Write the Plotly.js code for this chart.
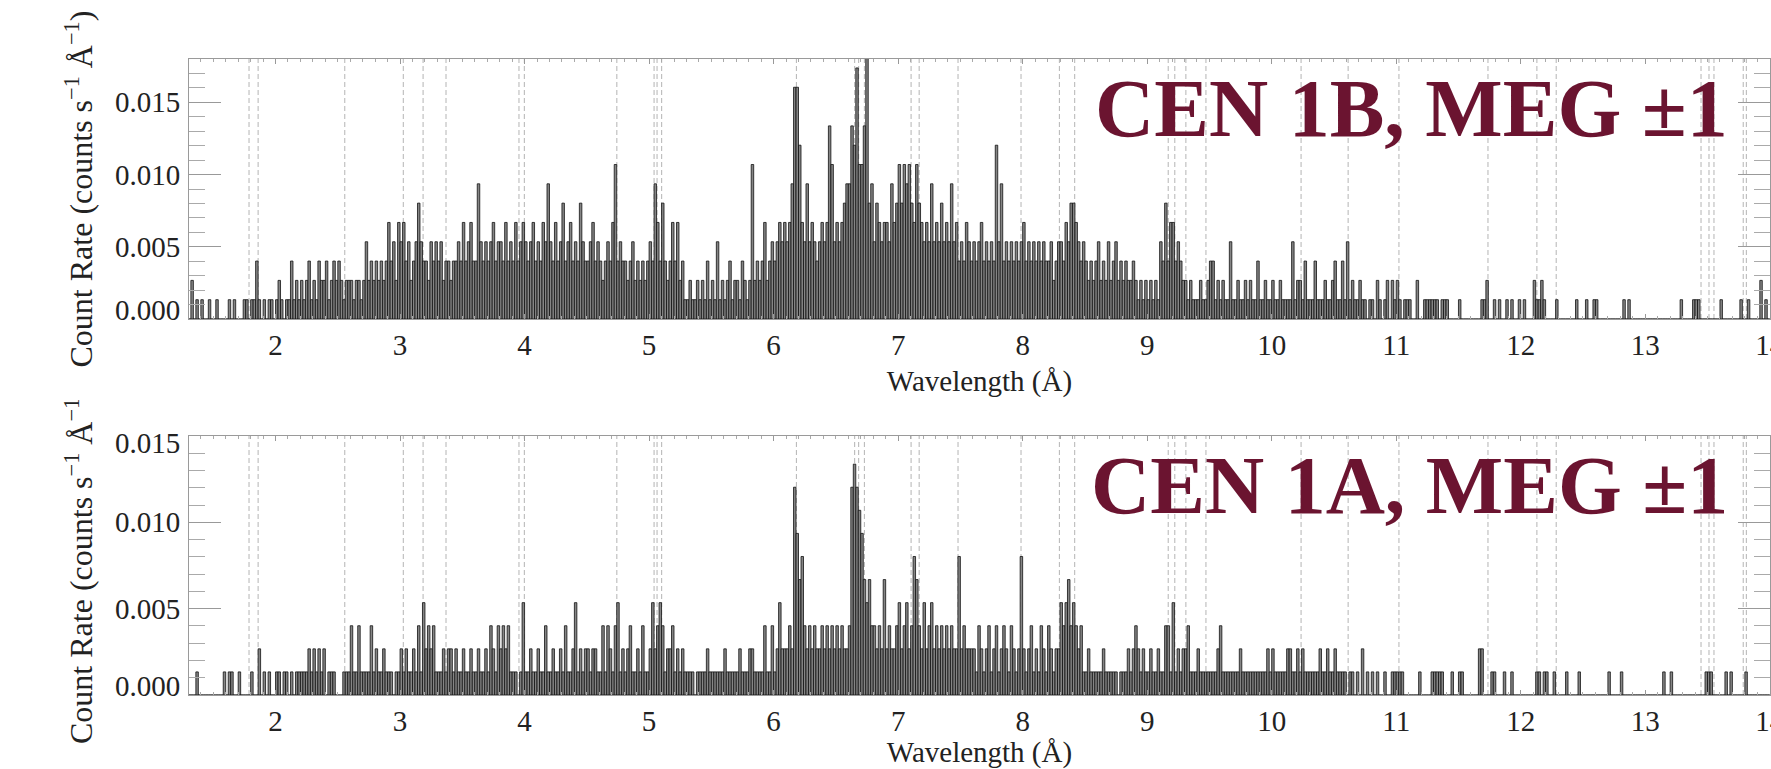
<!DOCTYPE html>
<html><head><meta charset="utf-8">
<script src="https://cdn.plot.ly/plotly-3.0.1.min.js"></script>
<style>
html,body{margin:0;padding:0;background:#fff;overflow:hidden;width:1771px;height:769px;}
#top{position:absolute;left:0;top:0;width:1771px;height:400px;overflow:hidden;}
#bot{position:absolute;left:0;top:400px;width:1771px;height:369px;overflow:hidden;}
</style></head><body>
<div id="top"></div><div id="bot"></div>
<script>
// Histogram bins (Angstrom)
const BIN_START = 1.30;
const BIN_WIDTH = 0.02;
const RATE_PER_COUNT = 0.001337; // counts s^-1 A^-1 for one count

// CEN 1B, MEG +/-1 : counts per bin, 1.30 -> 14.00 A
const cen1bCounts = [
 0,2,0,1,0, 1,0,0,1,0, 0,1,0,0,0, 0,1,0,1,0, 0,0,1,1,0, 1,1,3,1,0, 1,0,1,1,0,
 1,2,1,0,1, 1,3,1,2,1, 2,1,2,3,1, 2,1,3,2,2, 3,1,2,3,2, 3,2,1,2,2, 2,1,2,2,1, 2,4,2,3,2, 3,2,3,2,3, 5,3,4,2,5,
 4,5,3,4,2, 3,4,6,4,3, 3,2,4,3,4, 3,4,2,3,3, 2,3,3,4,3, 5,3,4,5,3, 3,7,4,3,4, 3,4,5,3,4, 4,3,5,3,4, 3,5,3,4,5,
 4,3,4,5,3, 4,3,5,4,7, 4,3,5,3,4, 6,3,4,5,3, 4,3,6,4,3, 3,4,5,3,4, 3,2,3,4,3, 5,8,3,4,3, 3,2,3,4,2, 3,2,3,2,3,
 4,3,7,5,3, 6,3,2,3,5, 3,5,2,3,1, 1,2,1,1,2, 1,2,1,3,1, 2,1,4,1,2, 1,2,3,1,2, 2,1,3,2,1, 2,8,2,3,2, 3,5,2,3,4,
 3,4,5,4,5, 4,5,7,12,12, 9,5,4,7,4, 5,4,3,4,5, 4,5,10,8,4, 5,4,5,6,7, 7,10,9,13,8, 8,10,14,6,7, 4,6,5,4,5, 5,4,7,5,6,
 8,6,8,7,8, 6,5,8,6,5, 4,5,4,7,4, 5,4,6,4,5, 4,7,4,5,3, 4,3,5,4,3, 4,3,4,5,3, 4,3,4,3,9, 4,7,3,4,3, 4,3,4,3,4,
 5,3,4,3,4, 3,4,3,4,3, 3,4,2,3,4, 4,3,5,4,6, 6,5,4,3,4, 3,2,3,2,3, 4,2,3,2,4, 2,3,4,2,3, 2,3,2,2,3, 2,1,2,1,2,
 1,2,1,2,1, 4,3,6,3,5, 5,3,4,3,2, 2,1,2,1,1, 1,2,1,1,2, 3,3,1,2,1, 2,1,1,4,1, 1,2,1,1,2, 1,2,1,1,3, 1,1,2,1,1,
 2,1,1,2,1, 1,1,1,4,1, 2,2,1,3,1, 1,1,3,1,1, 1,2,1,1,2, 3,1,1,3,1, 4,1,2,1,1, 2,1,1,0,1, 1,0,2,1,0, 1,2,0,2,1,
 2,1,0,1,1, 1,0,0,2,0, 0,1,1,1,1, 1,1,0,1,1, 1,0,0,0,0, 1,0,0,0,0, 0,0,0,0,1, 1,2,0,0,1, 0,1,0,0,1, 0,1,0,0,1,
 0,1,0,0,0, 2,1,1,2,1, 0,0,0,0,1, 0,0,0,0,0, 0,0,1,0,0, 0,1,0,0,1, 1,0,0,0,0, 0,0,0,0,0, 0,1,0,1,0, 0,0,0,0,0,
 0,0,0,0,0, 0,0,0,0,0, 0,0,0,0,1, 0,0,0,0,1, 1,1,0,0,0, 0,0,0,0,0, 1,0,0,0,0, 0,0,0,1,0, 0,1,0,0,0, 0,2,0,1,0
];

// CEN 1A, MEG +/-1 : counts per bin, 1.30 -> 14.00 A
const cen1aCounts = [
 0,0,0,1,0, 0,0,0,0,0, 0,0,0,0,1, 0,1,1,0,0, 1,0,0,0,0, 1,0,0,2,0, 1,0,1,0,0,
 1,1,0,1,1, 0,1,0,1,1, 1,1,1,2,1, 2,1,2,1,2, 0,1,1,1,0, 0,0,1,1,1, 3,1,1,3,1, 1,1,1,3,1, 2,1,1,2,1, 1,1,0,1,1,
 2,1,2,1,1, 2,1,3,1,4, 2,3,2,3,1, 1,1,2,1,2, 2,1,2,1,1, 2,1,1,2,1, 1,2,1,1,2, 1,3,2,1,3, 2,3,2,3,1, 1,1,0,1,4,
 1,1,2,1,1, 2,1,1,3,1, 1,2,1,1,2, 1,3,1,1,2, 4,1,2,1,2, 2,1,2,2,1, 1,3,1,3,2, 1,3,4,1,2, 1,2,3,1,1, 2,1,3,1,1,
 2,4,2,3,4, 3,1,2,2,3, 1,2,1,2,1, 1,1,1,0,1, 1,1,1,2,1, 1,1,1,1,1, 2,1,1,1,1, 1,2,1,1,1, 2,2,1,1,1, 1,3,1,1,3,
 1,2,4,2,2, 2,3,2,9,7, 5,6,3,2,3, 2,3,2,2,3, 2,3,2,3,2, 3,2,3,2,2, 3,9,10,9,8, 7,5,4,5,3, 3,2,3,2,5, 2,3,2,2,3,
 4,2,3,4,2, 3,6,5,3,2, 4,2,3,4,2, 3,2,3,2,3, 2,3,2,2,6, 2,3,2,2,2, 2,1,3,2,1, 2,3,1,2,3, 1,2,3,2,1, 3,2,1,2,6,
 2,1,2,3,1, 2,1,3,2,1, 3,2,1,2,2, 4,3,4,5,3, 4,3,2,3,1, 1,2,1,1,1, 1,1,2,1,1, 1,1,1,0,1, 1,1,2,1,2, 3,2,1,2,1,
 1,2,1,1,2, 1,1,3,3,1, 4,1,2,1,2, 2,3,1,1,1, 2,1,1,1,1, 1,1,1,2,3, 1,1,1,1,1, 1,1,2,1,1, 1,1,1,1,1, 1,1,1,2,1,
 2,1,1,1,1, 1,2,2,1,1, 2,1,2,1,1, 1,1,1,1,2, 1,1,2,1,1, 2,1,1,1,1, 0,1,1,0,1, 0,2,0,1,0, 1,0,1,0,0, 1,0,0,1,1,
 1,1,1,0,0, 0,0,0,0,1, 0,0,0,0,1, 1,1,1,1,0, 0,0,1,0,0, 1,1,0,0,0, 0,0,0,2,2, 0,0,0,1,1, 0,0,0,1,0, 0,1,0,0,0,
 0,0,0,0,0, 0,1,1,0,1, 1,0,0,1,0, 0,0,0,1,0, 0,0,0,1,0, 0,0,0,0,0, 0,0,0,0,0, 1,0,0,0,0, 1,0,0,0,0, 0,0,0,0,0,
 0,0,0,0,0, 0,0,1,0,0, 1,0,0,0,0, 0,0,0,0,0, 0,0,0,0,1, 1,1,0,0,0, 0,0,1,0,1, 0,0,0,0,0, 1,0,0,0,0, 0,0,0,0,0
];

// Wavelengths of the marked lines (dashed)
const lineWavelengths = [1.787, 1.860, 2.556, 3.026, 3.185, 3.369, 3.955, 3.998, 4.741,
  5.040, 5.064, 5.101, 6.183, 6.651, 6.683, 6.729, 7.104, 7.169, 7.481, 7.987, 8.295,
  8.418, 9.169, 9.222, 9.311, 9.472, 10.236, 10.614, 11.022, 11.737, 12.130, 12.285,
  13.448, 13.512, 13.552, 13.787, 13.812];

const panelLabels = ['CEN 1B, MEG \u00b11', 'CEN 1A, MEG \u00b11'];
const xRange = [1.305, 14.002];
const yMaxTop = 0.018;
const yMaxBottom = 0.015;
// labelled y ticks drawn by the axis; the end values are drawn nudged inward
const yTicksTop = [0.005, 0.010, 0.015];
const yEndLabelsTop = [0];
const yTicksBottom = [0.005, 0.010];
const yEndLabelsBottom = [0, 0.015];
const xTitle = 'Wavelength (\u00c5)';
const yTitle = 'Count Rate (counts s<sup>\u22121</sup> \u00c5<sup>\u22121</sup>)';

const FONT = 'Liberation Serif, Times New Roman, serif';

function histTrace(counts) {
  const x = [], y = [];
  for (let i = 0; i < counts.length; i++) {
    x.push(+(BIN_START + (i + 0.5) * BIN_WIDTH).toFixed(4));
    y.push(counts[i] * RATE_PER_COUNT);
  }
  return {
    x: x, y: y, type: 'bar', width: BIN_WIDTH,
    marker: {color: '#858585', line: {color: '#111', width: 0.8}},
    hoverinfo: 'skip', showlegend: false
  };
}

function edgeLabel(val, yMax) {
  const shift = val === 0 ? 9 : -7;
  return {
    text: val.toFixed(3), xref: 'paper', yref: 'y', x: 0, y: val,
    xanchor: 'right', yanchor: 'middle', xshift: -7, yshift: shift,
    showarrow: false, font: {family: FONT, size: 29, color: '#222'}
  };
}

function makeLayout(yMax, yTicks, endLabels, label, height, mt, mb) {
  const shapes = lineWavelengths.map(w => ({
    type: 'line', xref: 'x', yref: 'paper', x0: w, x1: w, y0: 0, y1: 1,
    line: {color: '#b4b4b4', width: 1, dash: '5px,3px'}, layer: 'below'
  }));
  const anns = [{
    text: '<b>' + label + '</b>', xref: 'paper', yref: 'paper',
    x: 1, y: 1, xanchor: 'right', yanchor: 'top', xshift: -40, yshift: -2,
    showarrow: false,
    font: {family: FONT, size: 82, color: '#6b1430'}
  }];
  endLabels.forEach(v => anns.push(edgeLabel(v, yMax)));
  return {
    width: 1771, height: height,
    margin: {l: 189, r: 1, t: mt, b: mb, pad: 0},
    paper_bgcolor: '#fff', plot_bgcolor: '#fff',
    showlegend: false, bargap: 0,
    font: {family: FONT, size: 29, color: '#222'},
    xaxis: {
      range: xRange, tickmode: 'linear', tick0: 0, dtick: 1,
      ticks: 'inside', ticklen: 5, tickwidth: 1, tickcolor: '#999',
      minor: {ticks: 'inside', dtick: 0.1, tick0: 0, ticklen: 3, tickcolor: '#aaa', showgrid: false},
      mirror: 'allticks', showline: true, linecolor: '#9a9a9a', linewidth: 1,
      showgrid: false, zeroline: false,
      tickfont: {family: FONT, size: 29, color: '#222'},
      ticklabelstandoff: 0, ticklabeloverflow: 'allow',
      title: {text: xTitle, font: {family: FONT, size: 29, color: '#222'}, standoff: 10}
    },
    yaxis: {
      range: [0, yMax], tickmode: 'array', tickvals: yTicks, tickformat: '.3f',
      ticks: 'inside', ticklen: 32, tickwidth: 1, tickcolor: '#999',
      minor: {ticks: 'inside', dtick: 0.001, tick0: 0, ticklen: 16, tickcolor: '#aaa', showgrid: false},
      mirror: 'allticks', showline: true, linecolor: '#9a9a9a', linewidth: 1,
      showgrid: false, zeroline: false,
      tickfont: {family: FONT, size: 29, color: '#222'},
      ticklabelstandoff: 2,
      title: {text: yTitle, font: {family: FONT, size: 32, color: '#222'}, standoff: 12}
    },
    shapes: shapes,
    annotations: anns
  };
}

const cfg = {staticPlot: true, displayModeBar: false};
Plotly.newPlot('top', [histTrace(cen1bCounts)],
  makeLayout(yMaxTop, yTicksTop, yEndLabelsTop, panelLabels[0], 400, 59, 81), cfg);
Plotly.newPlot('bot', [histTrace(cen1aCounts)],
  makeLayout(yMaxBottom, yTicksBottom, yEndLabelsBottom, panelLabels[1], 369, 36, 74), cfg);
</script>
</body></html>
